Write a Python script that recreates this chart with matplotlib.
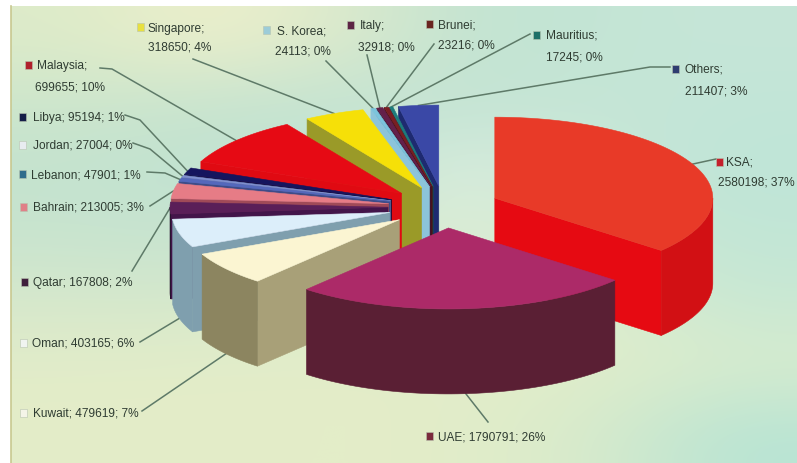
import numpy as np
import matplotlib
matplotlib.use('Agg')
import matplotlib.pyplot as plt
from matplotlib.colors import to_rgb
from matplotlib.patches import Polygon, Rectangle

plt.rcParams['font.family'] = ['Liberation Sans', 'DejaVu Sans']

# Data
countries = ['KSA', 'UAE', 'Kuwait', 'Oman', 'Qatar', 'Bahrain', 'Lebanon', 'Jordan',
             'Libya', 'Malaysia', 'Singapore', 'S. Korea', 'Italy', 'Brunei', 'Mauritius', 'Others']
values = [2580198, 1790791, 479619, 403165, 167808, 213005, 47901, 27004,
          95194, 699655, 318650, 24113, 32918, 23216, 17245, 211407]
percents = [37, 26, 7, 6, 2, 3, 1, 0, 1, 10, 4, 0, 0, 0, 0, 3]

# top, rim, cut face
top_cols = ['#E83A28', '#AC2A68', '#FBF5D2', '#DCEEFA', '#5A1F58', '#E67C86', '#5468BC', '#8090D0',
            '#15155E', '#E60A14', '#F6E008', '#7CC4DC', '#64204A', '#7A1E22', '#1E7C7C', '#3A48A6']
rim_cols = ['#D21014', '#5A1F34', '#8C8560', '#7F9FAE', '#24102C', '#A04A58', '#2E3C78', '#4A5890',
            '#0C0C3A', '#A00810', '#9A9A28', '#8CC4DA', '#3E1430', '#4C1216', '#124E4E', '#1E2A70']
cut_cols = ['#E60A12', '#5C1F36', '#A8A078', '#7F9FAE', '#43154A', '#A04A58', '#3E4C88', '#6A78A8',
            '#0C0C3A', '#E00A12', '#9A9A28', '#8CC4DA', '#3E1430', '#4C1216', '#124E4E', '#1E2A70']
marker_cols = ['#C4202C', '#7A2A3C', '#F4F4E8', '#F0F4F0', '#40203C', '#E08088', '#2F6C8C', '#E8ECF0',
               '#141E48', '#B0202C', '#E8E040', '#9CCCD8', '#5C2444', '#6A2420', '#1E7068', '#2E3C70']

# pie geometry, in pixels of the final image
cx, cy = 444, 208
explode = 56
flat = 0.375
rx, ry = 218, 81
depth = 85

# background colour grid (y rows, x columns)
bg = [['#DDEBC9', '#EFF0CB', '#DDEACB', '#C2E3D2', '#C4E5D5', '#C6E6D8'],
      ['#CDE6CC', '#C8E4CF', '#C2E3D2', '#C4E4D4', '#C6E6D6', '#C2E6D8'],
      ['#C4E3CF', '#C0E2D2', '#C4E4D2', '#DCEEE0', '#C8E6D6', '#BFE5D8'],
      ['#C8E4CF', '#C6E3D0', '#CFE7D0', '#DFEED6', '#CBE8D2', '#C2E6D6'],
      ['#D6E8CC', '#D4E8CC', '#DDECCC', '#E0EDCD', '#DDEDCE', '#C8E8D4'],
      ['#E2ECC9', '#E3EDC9', '#E3EDC9', '#E3EDC9', '#E0EDCA', '#D8ECCE'],
      ['#E4EDC8', '#E4EDC8', '#E4EDC8', '#E2EDC9', '#D6EACC', '#B8E4D4']]

# label layout: marker, first line, second line (None = one line)
label_pos = {
    'KSA': (720, 163, 726, 163, 718, 183),
    'UAE': (430, 437, 438, 438, None, None),
    'Kuwait': (24, 414, 33, 414, None, None),
    'Oman': (24, 344, 32, 344, None, None),
    'Qatar': (25, 283, 33, 283, None, None),
    'Bahrain': (24, 208, 33, 208, None, None),
    'Lebanon': (23, 175, 31, 176, None, None),
    'Jordan': (23, 146, 33, 146, None, None),
    'Libya': (23, 118, 33, 118, None, None),
    'Malaysia': (29, 66, 37, 66, 35, 87),
    'Singapore': (141, 28, 148, 29, 148, 48),
    'S. Korea': (267, 31, 277, 31, 275, 52),
    'Italy': (351, 26, 360, 26, 358, 47),
    'Brunei': (430, 25, 438, 25, 438, 45),
    'Mauritius': (537, 36, 546, 36, 546, 57),
    'Others': (676, 70, 685, 70, 685, 91),
}

# leader line points on the label side
leader_pts = {
    'KSA': [(716, 160)],
    'UAE': [(488, 423)],
    'Kuwait': [(142, 412)],
    'Oman': [(140, 343)],
    'Qatar': [(132, 272)],
    'Bahrain': [(150, 207)],
    'Lebanon': [(147, 173), (165, 174)],
    'Jordan': [(133, 144), (150, 150)],
    'Libya': [(125, 116), (140, 121)],
    'Malaysia': [(100, 69), (112, 70)],
    'Singapore': [(193, 60)],
    'S. Korea': [(326, 62)],
    'Italy': [(367, 56)],
    'Brunei': [(434, 45)],
    'Mauritius': [(530, 35)],
    'Others': [(670, 68), (650, 68)],
}

fig = plt.figure(figsize=(7.97, 4.64), dpi=100)
ax = fig.add_axes([0, 0, 1, 1])
ax.set_xlim(0, 797)
ax.set_ylim(464, 0)
ax.axis('off')

bg_rgb = np.array([[to_rgb(c) for c in row] for row in bg])
ax.imshow(bg_rgb, extent=(11, 797, 464, 7), interpolation='bicubic', aspect='auto', zorder=0)
ax.set_xlim(0, 797)
ax.set_ylim(464, 0)
ax.plot([11, 11], [7, 464], color='#C8C890', lw=1.2, zorder=1)

# slice angles, clockwise from 12 o'clock
vals = np.array(values, dtype=float)
edges = np.concatenate([[0], np.cumsum(vals)]) / vals.sum() * 2 * np.pi
mids = (edges[:-1] + edges[1:]) / 2


def apex_of(i):
    return cx + explode * np.sin(mids[i]), cy - explode * flat * np.cos(mids[i])


def rim_pts(i, angles):
    ax_, ay_ = apex_of(i)
    return ax_ + rx * np.sin(angles), ay_ - ry * np.cos(angles)


# leader lines go under the pie
for i, name in enumerate(countries):
    x0, y0 = rim_pts(i, mids[i])
    # front slices are joined at the bottom of the rim
    if np.pi / 2 < mids[i] < 1.45 * np.pi:
        y0 += depth
    pts = leader_pts[name] + [(x0, y0)]
    ax.plot([p[0] for p in pts], [p[1] for p in pts], color='#5E7A68', lw=1.1, zorder=2)


def add_face(xs, ys, col, z):
    ax.add_patch(Polygon(np.column_stack([xs, ys]), closed=True, facecolor=col,
                         edgecolor=col, lw=0.4, zorder=z))


# back slices first, front ones last
order = [15, 14, 13, 12, 11, 10, 9, 8, 7, 6, 5, 4, 3, 2, 0, 1]
z = 3.0
for i in order:
    a0, a1 = edges[i], edges[i + 1]
    px, py = apex_of(i)
    for a, other in ((a0, a1), (a1, a0)):
        # a cut face shows when the rest of the slice sits above its edge
        ex, ey = rim_pts(i, a)
        ox, oy = rim_pts(i, other)
        side = (ex - px) * (oy - py) - (ey - py) * (ox - px)
        if (ex - px) != 0 and side * (ex - px) < 0:
            z += 0.01
            add_face([px, ex, ex, px], [py, ey, ey + depth, py + depth], cut_cols[i], z)
    lo, hi = max(a0, np.pi / 2), min(a1, 3 * np.pi / 2)
    if lo < hi:
        t = np.linspace(lo, hi, 60)
        x, y = rim_pts(i, t)
        z += 0.01
        add_face(np.r_[x, x[::-1]], np.r_[y, y[::-1] + depth], rim_cols[i], z)
    t = np.linspace(a0, a1, 80)
    x, y = rim_pts(i, t)
    z += 0.01
    add_face(np.r_[px, x], np.r_[py, y], top_cols[i], z)

# labels
for i, name in enumerate(countries):
    mx, my, tx, ty, tx2, ty2 = label_pos[name]
    ax.add_patch(Rectangle((mx - 3.5, my - 4), 7, 8, facecolor=marker_cols[i],
                           edgecolor='#B8C4B0', lw=0.4, zorder=20))
    if tx2 is None:
        ax.text(tx, ty, f'{name}; {values[i]}; {percents[i]}%', fontsize=8.6, color='#2F3C32',
                va='center', ha='left', zorder=20)
    else:
        ax.text(tx, ty, f'{name};', fontsize=8.6, color='#2F3C32', va='center', ha='left', zorder=20)
        ax.text(tx2, ty2, f'{values[i]}; {percents[i]}%', fontsize=8.6, color='#2F3C32',
                va='center', ha='left', zorder=20)

fig.savefig('out.png', dpi=100, facecolor='white')
